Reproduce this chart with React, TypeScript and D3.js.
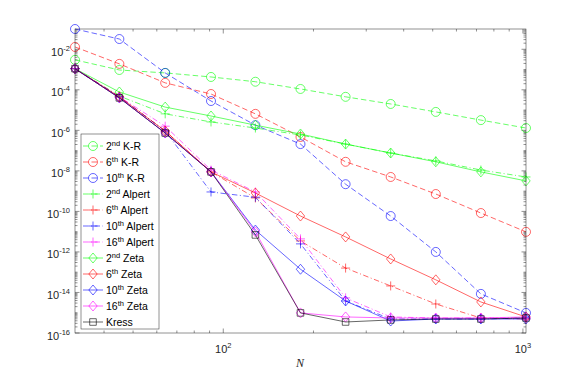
import React, { useRef, useEffect } from 'react';
import * as d3 from 'd3';

// grid sizes
const N = [32, 45, 64, 91, 128, 181, 256, 362, 512, 724, 1024];

// errors
const kr2 = [3.0e-3, 9.5e-4, 6.8e-4, 4.3e-4, 2.5e-4, 1.1e-4, 4.5e-5, 2.0e-5, 8.1e-6, 3.2e-6, 1.3e-6];
const kr6 = [1.3e-2, 1.9e-3, 2.2e-4, 6.2e-5, 6.5e-6, 4.7e-7, 2.8e-8, 5.0e-9, 7.2e-10, 8.3e-11, 9.8e-12];
const kr10 = [1.0e-1, 3.2e-2, 6.8e-4, 2.8e-5, 1.8e-6, 2.1e-7, 2.2e-9, 5.9e-11, 1.0e-12, 8.5e-15, 9.8e-16];
const alpert2 = [1.1e-3, 4.9e-5, 6.5e-6, 2.6e-6, 1.3e-6, 5.9e-7, 2.1e-7, 7.6e-8, 3.1e-8, 1.1e-8, 5.0e-9];
const alpert6 = [1.1e-3, 4.5e-5, 9.3e-7, 8.9e-9, 4.6e-10, 3.5e-12, 1.6e-13, 2.1e-14, 2.7e-15, 5.5e-16, 4.9e-16];
const alpert10 = [1.1e-3, 4.5e-5, 9.3e-7, 9.1e-10, 5.0e-10, 2.5e-12, 3.8e-15, 4.9e-16, 4.9e-16, 4.9e-16, 5.5e-16];
const alpert16 = [1.1e-3, 4.5e-5, 1.6e-6, 1.1e-8, 9.1e-10, 4.4e-12, 5.4e-15, 6.2e-16, 5.5e-16, 5.5e-16, 5.5e-16];
const zeta2 = [1.1e-3, 7.8e-5, 1.4e-5, 5.1e-6, 1.8e-6, 6.6e-7, 2.1e-7, 7.6e-8, 2.8e-8, 8.9e-9, 3.2e-9];
const zeta6 = [1.1e-3, 4.5e-5, 9.3e-7, 8.9e-9, 8.1e-10, 5.9e-11, 5.5e-12, 4.5e-13, 4.2e-14, 3.4e-15, 6.2e-16];
const zeta10 = [1.1e-3, 4.0e-5, 7.4e-7, 8.9e-9, 1.2e-11, 1.4e-13, 3.8e-15, 3.9e-16, 4.9e-16, 4.9e-16, 4.9e-16];
const zeta16 = [1.1e-3, 4.0e-5, 7.4e-7, 8.9e-9, 9.8e-12, 9.8e-16, 6.2e-16, 5.5e-16, 5.5e-16, 5.5e-16, 6.2e-16];
const kress = [1.1e-3, 4.0e-5, 7.4e-7, 8.9e-9, 6.9e-12, 9.8e-16, 3.5e-16, 4.4e-16, 4.9e-16, 4.9e-16, 5.5e-16];

const yTickExps = [-16, -14, -12, -10, -8, -6, -4, -2];
const xTickExps = [2, 3];

const GREEN = '#00ff00', RED = '#ff0000', BLUE = '#0000ff', MAGENTA = '#ff00ff', BLACK = '#000000';
const DASH = '5.5,3';
const DASHDOT = '5.5,2.5,1,2.5';

const series = [
  { ord: '2', sup: 'nd', method: 'K-R', values: kr2, color: GREEN, dash: DASH, marker: 'circle' },
  { ord: '6', sup: 'th', method: 'K-R', values: kr6, color: RED, dash: DASH, marker: 'circle' },
  { ord: '10', sup: 'th', method: 'K-R', values: kr10, color: BLUE, dash: DASH, marker: 'circle' },
  { ord: '2', sup: 'nd', method: 'Alpert', values: alpert2, color: GREEN, dash: DASHDOT, marker: 'plus' },
  { ord: '6', sup: 'th', method: 'Alpert', values: alpert6, color: RED, dash: DASHDOT, marker: 'plus' },
  { ord: '10', sup: 'th', method: 'Alpert', values: alpert10, color: BLUE, dash: DASHDOT, marker: 'plus' },
  { ord: '16', sup: 'th', method: 'Alpert', values: alpert16, color: MAGENTA, dash: DASHDOT, marker: 'plus' },
  { ord: '2', sup: 'nd', method: 'Zeta', values: zeta2, color: GREEN, dash: null, marker: 'diamond' },
  { ord: '6', sup: 'th', method: 'Zeta', values: zeta6, color: RED, dash: null, marker: 'diamond' },
  { ord: '10', sup: 'th', method: 'Zeta', values: zeta10, color: BLUE, dash: null, marker: 'diamond' },
  { ord: '16', sup: 'th', method: 'Zeta', values: zeta16, color: MAGENTA, dash: null, marker: 'diamond' },
  { ord: '', sup: '', method: 'Kress', values: kress, color: BLACK, dash: null, marker: 'square' },
];

const markerPath = (type: string) => {
  if (type === 'circle') return 'M4.5,0A4.5,4.5 0 1,1 -4.5,0A4.5,4.5 0 1,1 4.5,0Z';
  if (type === 'diamond') return 'M0,-5L4.2,0L0,5L-4.2,0Z';
  if (type === 'plus') return 'M-4.5,0H4.5M0,-4.5V4.5';
  return 'M-3.3,-3.3H3.3V3.3H-3.3Z';
};

const App = () => {
  const chartRef = useRef<SVGSVGElement>(null);

  useEffect(() => {
    const svg = d3.select(chartRef.current);
    svg.selectAll('*').remove();

    const left = 75, right = 526, top = 29, bottom = 333;
    const axisColor = '#262626';
    const font = "'Liberation Sans', Arial, Helvetica, sans-serif";

    const x = d3.scaleLog().domain([32, 1024]).range([left, right]);
    const y = d3.scaleLog().domain([1e-16, 1e-1]).range([bottom, top]);

    svg.append('rect')
      .attr('x', left).attr('y', top)
      .attr('width', right - left).attr('height', bottom - top)
      .attr('fill', '#ffffff');

    // ticks
    const ticks = svg.append('g').attr('stroke', axisColor).attr('stroke-width', 0.5);
    const xMinor: number[] = [];
    for (let e = 1; e <= 2; e++) for (let k = 2; k <= 9; k++) {
      const v = k * Math.pow(10, e);
      if (v > 32 && v < 1024) xMinor.push(v);
    }
    const xMajor = xTickExps.map(e => Math.pow(10, e));
    xMajor.forEach(v => {
      ticks.append('line').attr('x1', x(v)).attr('x2', x(v)).attr('y1', bottom).attr('y2', bottom - 4.5);
      ticks.append('line').attr('x1', x(v)).attr('x2', x(v)).attr('y1', top).attr('y2', top + 4.5);
    });
    xMinor.forEach(v => {
      ticks.append('line').attr('x1', x(v)).attr('x2', x(v)).attr('y1', bottom).attr('y2', bottom - 2.5);
      ticks.append('line').attr('x1', x(v)).attr('x2', x(v)).attr('y1', top).attr('y2', top + 2.5);
    });
    const yMinor: number[] = [];
    for (let e = -16; e <= -2; e++) for (let k = 1; k <= 9; k++) {
      if (k === 1 && e % 2 === 0) continue;
      const v = k * Math.pow(10, e);
      if (v <= 1e-1) yMinor.push(v);
    }
    yTickExps.forEach(e => {
      const v = Math.pow(10, e);
      ticks.append('line').attr('x1', left).attr('x2', left + 4.5).attr('y1', y(v)).attr('y2', y(v));
      ticks.append('line').attr('x1', right).attr('x2', right - 4.5).attr('y1', y(v)).attr('y2', y(v));
    });
    yMinor.forEach(v => {
      ticks.append('line').attr('x1', left).attr('x2', left + 2.5).attr('y1', y(v)).attr('y2', y(v));
      ticks.append('line').attr('x1', right).attr('x2', right - 2.5).attr('y1', y(v)).attr('y2', y(v));
    });

    // tick labels
    yTickExps.forEach(e => {
      const t = svg.append('text')
        .attr('x', 70).attr('y', y(Math.pow(10, e)) + 6.5)
        .attr('text-anchor', 'end')
        .attr('font-family', font).attr('font-size', 11).attr('fill', axisColor);
      t.append('tspan').text('10');
      t.append('tspan').attr('dy', -5).attr('font-size', 7.5).text(String(e));
    });
    xTickExps.forEach(e => {
      const t = svg.append('text')
        .attr('x', x(Math.pow(10, e))).attr('y', 353)
        .attr('text-anchor', 'middle')
        .attr('font-family', font).attr('font-size', 11).attr('fill', axisColor);
      t.append('tspan').text('10');
      t.append('tspan').attr('dy', -5).attr('font-size', 7.5).text(String(e));
    });
    svg.append('text')
      .attr('x', 300).attr('y', 367)
      .attr('text-anchor', 'middle')
      .attr('font-family', "'Liberation Serif', 'Times New Roman', serif")
      .attr('font-style', 'italic').attr('font-size', 12).attr('fill', axisColor)
      .text('N');

    // series
    const line = d3.line<number>()
      .x((d, i) => x(N[i]))
      .y(d => y(d));

    series.forEach(s => {
      const g = svg.append('g');
      g.append('path')
        .attr('d', line(s.values))
        .attr('fill', 'none')
        .attr('stroke', s.color)
        .attr('stroke-width', 0.6)
        .attr('stroke-dasharray', s.dash);
      g.selectAll('path.mk')
        .data(s.values)
        .enter()
        .append('path')
        .attr('class', 'mk')
        .attr('transform', (d, i) => `translate(${x(N[i])},${y(d)})`)
        .attr('d', markerPath(s.marker))
        .attr('fill', 'none')
        .attr('stroke', s.color)
        .attr('stroke-width', 0.6);
    });

    // axes box
    svg.append('rect')
      .attr('x', left).attr('y', top)
      .attr('width', right - left).attr('height', bottom - top)
      .attr('fill', 'none').attr('stroke', axisColor).attr('stroke-width', 0.5);

    // legend
    const lg = svg.append('g');
    lg.append('rect')
      .attr('x', 81).attr('y', 134).attr('width', 78).attr('height', 195)
      .attr('fill', '#ffffff').attr('stroke', axisColor).attr('stroke-width', 0.5);
    series.forEach((s, i) => {
      const yy = 146 + i * 16;
      lg.append('line')
        .attr('x1', 83).attr('x2', 103).attr('y1', yy).attr('y2', yy)
        .attr('stroke', s.color).attr('stroke-width', 0.6)
        .attr('stroke-dasharray', s.dash);
      lg.append('path')
        .attr('transform', `translate(93,${yy})`)
        .attr('d', markerPath(s.marker))
        .attr('fill', 'none').attr('stroke', s.color).attr('stroke-width', 0.6);
      const t = lg.append('text')
        .attr('x', 106).attr('y', yy + 4)
        .attr('font-family', font).attr('font-size', 10.5).attr('fill', '#000000');
      if (s.ord) {
        t.append('tspan').text(s.ord);
        t.append('tspan').attr('dy', -4).attr('font-size', 7.5).text(s.sup);
        t.append('tspan').attr('dy', 4).text(' ' + s.method);
      } else {
        t.append('tspan').text(s.method);
      }
    });
  }, []);

  return (
    <div style={{ position: 'absolute', left: 0, top: 0 }}>
      <svg ref={chartRef} width={581} height={376} style={{ display: 'block' }}></svg>
    </div>
  );
};

export default App;
